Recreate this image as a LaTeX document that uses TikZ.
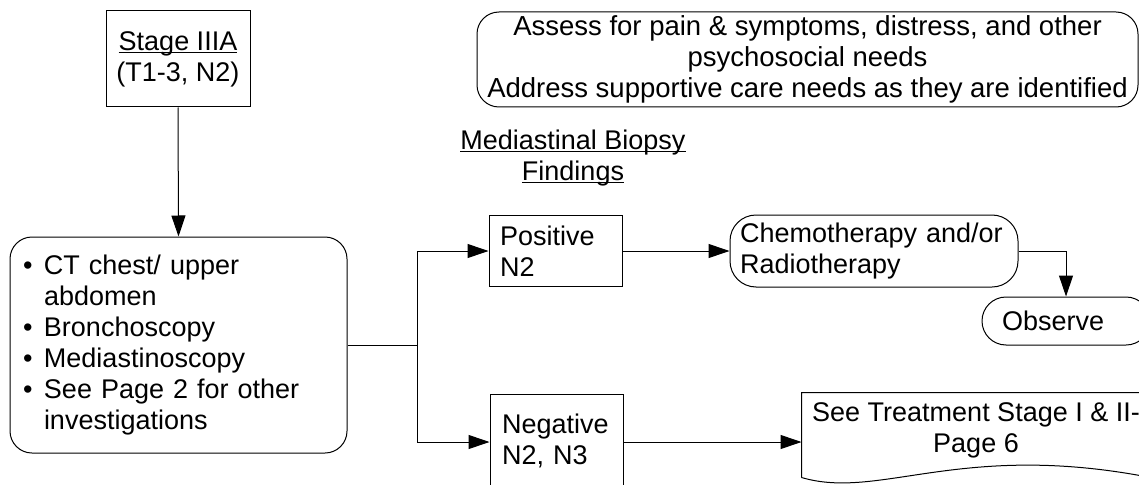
\documentclass[tikz,border=0pt]{standalone}
\usepackage{fontspec}
\setmainfont{Liberation Sans}
\usetikzlibrary{arrows.meta,calc}

% underline drawn close to the baseline, crossing descenders
\newsavebox\ulinebox
\newcommand\ulinetext[1]{\sbox\ulinebox{#1}\rlap{\rule[-3pt]{\wd\ulinebox}{1.4pt}}\usebox\ulinebox}
\newcommand\bulletitem{\makebox[21pt][l]{•}}

\begin{document}
\begin{tikzpicture}[x=1pt,y=-1pt,
  line width=1pt,
  >={Triangle[length=21pt,width=14pt]},
  font=\fontsize{27}{31}\selectfont,
  plainbox/.style={draw, rectangle, inner sep=0pt},
  roundbox/.style={draw, rectangle, rounded corners=22pt, inner sep=0pt},
  textonly/.style={inner sep=0pt, align=center}]

\useasboundingbox (0,0) rectangle (1139,484);
\clip (0,0) rectangle (1139,484);

% entry stage
\node[plainbox, minimum width=144pt, minimum height=96pt, align=center] (stage) at (178,59)
  {\ulinetext{Stage IIIA}\\(T1-3, N2)};

% supportive care note
\node[roundbox, minimum width=661pt, minimum height=95pt, align=center,
      font=\fontsize{27.5}{31}\selectfont] (care) at (807.5,59.5)
  {Assess for pain \& symptoms, distress, and other\\psychosocial needs\\Address supportive care needs as they are identified};

% heading of the biopsy branch
\node[textonly] (biopsy) at (573,158)
  {\ulinetext{Mediastinal Biopsy}\\\ulinetext{Findings}};

% investigations
\node[roundbox, minimum width=337pt, minimum height=216pt, text width=311pt,
      inner xsep=13pt, align=left] (tests) at (178.5,345)
  {\bulletitem CT chest/ upper\\
   \hspace*{21pt}abdomen\\
   \bulletitem Bronchoscopy\\
   \bulletitem Mediastinoscopy\\
   \bulletitem See Page 2 for other\\
   \hspace*{21pt}investigations};

% biopsy results
\node[plainbox, minimum width=133pt, minimum height=71pt, text width=111pt,
      inner xsep=11pt, align=left] (pos) at (555.5,251) {Positive\\N2};
\node[plainbox, anchor=north, text width=109pt, inner xsep=12pt, inner ysep=19.5pt,
      align=left] (neg) at (556.5,394) {Negative\\N2, N3\rule[-40pt]{0pt}{0pt}};

% treatment
\node[roundbox, rounded corners=26pt, minimum width=288pt, minimum height=72pt,
      text width=268pt, inner xsep=10pt, align=left] (chemo) at (874,251)
  {Chemotherapy and/or\\Radiotherapy};
\node[roundbox, rounded corners=24pt, minimum width=168pt, minimum height=48pt,
      text width=128pt, inner xsep=20pt, align=left] (obs) at (1066,321) {Observe};

% document-shaped reference box
\node[inner sep=0pt, minimum width=348pt, minimum height=84pt] (doc) at (976,435) {};
\node[textonly] (doclabel) at (976,430) {See Treatment Stage I \& II-\\Page 6};
\draw (doc.south west) -- (doc.north west) -- (doc.north east) -- (doc.south east)
  .. controls ($(doc.south east)+(-190,-37)$) and ($(doc.south west)+(78,23)$) .. (doc.south west);

% connectors
\coordinate (split) at (417,345);
\draw[->] (stage.south) -- (tests.north);
\draw (tests.east) -- (split);
\draw[->] (split) |- (pos.west);
\draw[->] (split) |- (neg.west |- 442,442);
\draw[->] (pos.east) -- (chemo.west);
\draw[->] (chemo.east) -| (obs.north);
\draw[->] (neg.east |- 442,442) -- (doc.west |- 442,442);

\end{tikzpicture}
\end{document}
